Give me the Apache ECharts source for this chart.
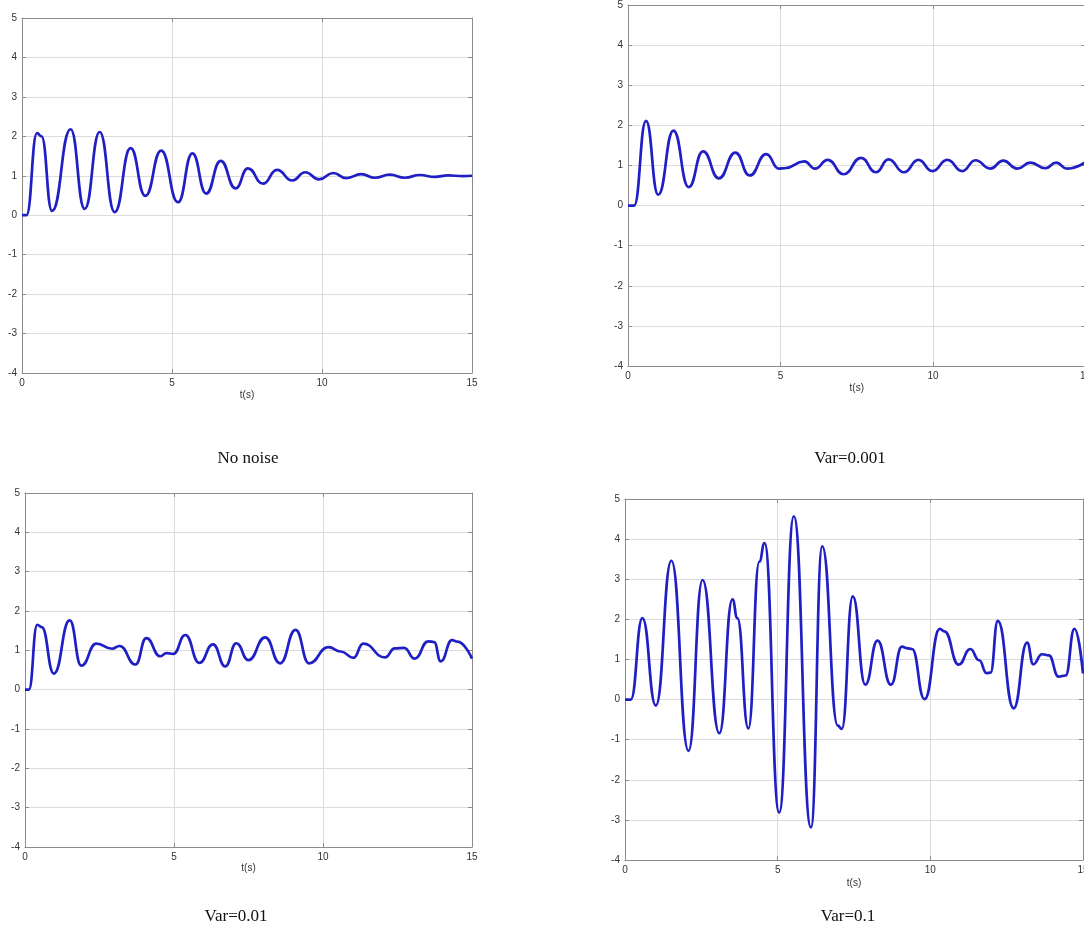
<!DOCTYPE html>
<html>
<head>
<meta charset="utf-8">
<script src="https://cdn.jsdelivr.net/npm/echarts@6/dist/echarts.min.js"></script>
<style>
  html, body { margin: 0; padding: 0; background: #fff; }
  #chart { width: 1084px; height: 934px; }
</style>
</head>
<body>
<div id="chart"></div>
<script>
// Step responses, time in seconds (local extrema and shoulders of each trace)
const tNoNoise = [0, 0.15, 0.5, 0.65, 1.0, 1.62, 2.09, 2.59, 3.09, 3.62, 4.11, 4.64, 5.2, 5.68, 6.14, 6.62, 7.12, 7.53, 8.03, 8.5, 9.01, 9.44, 9.9, 10.37, 10.81, 11.31, 11.76, 12.26, 12.76, 13.26, 13.76, 14.2, 14.7, 15];
const yNoNoise = [0, 0, 2.08, 2.0, 0.11, 2.18, 0.16, 2.11, 0.08, 1.70, 0.49, 1.64, 0.33, 1.57, 0.55, 1.38, 0.68, 1.19, 0.80, 1.15, 0.88, 1.09, 0.91, 1.07, 0.94, 1.04, 0.95, 1.03, 0.95, 1.02, 0.97, 1.01, 0.99, 1.0];

const tVar0001 = [0, 0.2, 0.59, 0.99, 1.49, 1.99, 2.46, 2.98, 3.52, 3.99, 4.53, 4.95, 5.13, 5.78, 6.13, 6.55, 7.07, 7.64, 8.13, 8.54, 9.05, 9.52, 9.98, 10.47, 10.96, 11.39, 11.88, 12.30, 12.76, 13.19, 13.68, 14.04, 14.39, 15];
const yVar0001 = [0, 0, 2.11, 0.27, 1.87, 0.46, 1.35, 0.68, 1.32, 0.75, 1.28, 0.92, 0.93, 1.10, 0.92, 1.14, 0.78, 1.19, 0.83, 1.15, 0.83, 1.14, 0.86, 1.14, 0.86, 1.13, 0.92, 1.12, 0.92, 1.07, 0.93, 1.07, 0.92, 1.08];

const tVar001 = [0, 0.13, 0.41, 0.56, 0.97, 1.5, 1.89, 2.39, 2.92, 3.17, 3.71, 4.07, 4.54, 4.75, 4.98, 5.38, 5.85, 6.31, 6.72, 7.09, 7.5, 8.06, 8.56, 9.08, 9.53, 10.18, 10.6, 11.02, 11.35, 12.08, 12.41, 12.72, 13.08, 13.53, 13.73, 13.95, 14.33, 14.51, 15];
const yVar001 = [0, 0, 1.65, 1.59, 0.41, 1.76, 0.61, 1.17, 1.04, 1.11, 0.64, 1.31, 0.85, 0.93, 0.91, 1.39, 0.68, 1.15, 0.59, 1.18, 0.75, 1.33, 0.67, 1.52, 0.67, 1.08, 0.97, 0.81, 1.17, 0.82, 1.05, 1.06, 0.79, 1.23, 1.21, 0.72, 1.26, 1.22, 0.79];

const tVar01 = [0, 0.19, 0.57, 1.01, 1.52, 2.08, 2.54, 3.09, 3.52, 3.68, 4.04, 4.4, 4.57, 5.05, 5.53, 6.09, 6.46, 6.97, 7.1, 7.46, 7.87, 8.27, 8.71, 9.07, 9.23, 9.40, 9.81, 10.31, 10.46, 10.93, 11.31, 11.6, 11.84, 11.97, 12.21, 12.73, 13.17, 13.37, 13.66, 13.88, 14.2, 14.43, 14.72, 15];
const yVar01 = [0, 0, 2.03, -0.15, 3.46, -1.28, 2.98, -0.84, 2.50, 2.03, -0.72, 3.44, 3.90, -2.82, 4.57, -3.19, 3.82, -0.65, -0.73, 2.57, 0.37, 1.47, 0.37, 1.32, 1.28, 1.26, 0.01, 1.76, 1.70, 0.87, 1.26, 0.98, 0.66, 0.67, 1.96, -0.22, 1.42, 0.88, 1.13, 1.10, 0.57, 0.60, 1.76, 0.65];

const captions = ['No noise', 'Var=0.001', 'Var=0.01', 'Var=0.1'];
const xRange = [0, 15, 5];   // min, max, step
const yRange = [-4, 5, 1];

const traces = [
  [tNoNoise, yNoNoise],
  [tVar0001, yVar0001],
  [tVar001, yVar001],
  [tVar01, yVar01]
];

// Panel placement on the page
const layout = [
  { box: [22, 18, 450, 355],   nameGap: 17, cap: [248, 459] },
  { box: [628, 5, 457.5, 361], nameGap: 17, cap: [850, 459] },
  { box: [25, 493, 447, 354],  nameGap: 16, cap: [236, 917] },
  { box: [625, 499, 458, 361], nameGap: 18, cap: [848, 917] }
];

const frameColor = '#8c8c8c';
const gridColor = '#dcdcdc';
const lineColor = '#1f1fc4';
const labelFont = { fontFamily: 'Liberation Sans, Arial, sans-serif', fontSize: 10, color: '#333' };

const option = {
  animation: false,
  backgroundColor: '#fff',
  grid: [], xAxis: [], yAxis: [], series: [], graphic: []
};

layout.forEach((p, i) => {
  const [left, top, width, height] = p.box;
  option.grid.push({ left, top, width, height, containLabel: false, outerBoundsMode: 'none' });

  const axisLine = { show: true, onZero: false, lineStyle: { color: frameColor, width: 1 } };
  const axisTick = { show: true, inside: true, length: 4, lineStyle: { color: frameColor } };

  option.xAxis.push({
    type: 'value', gridIndex: i, position: 'bottom',
    min: xRange[0], max: xRange[1], interval: xRange[2],
    axisLine, axisTick,
    axisLabel: Object.assign({ margin: 5 }, labelFont),
    splitLine: { show: true, lineStyle: { color: gridColor, width: 1 } },
    name: 't(s)', nameLocation: 'middle', nameGap: p.nameGap,
    nameTextStyle: Object.assign({}, labelFont)
  });
  option.xAxis.push({
    type: 'value', gridIndex: i, position: 'top',
    min: xRange[0], max: xRange[1], interval: xRange[2],
    axisLine, axisTick,
    axisLabel: { show: false }, splitLine: { show: false }
  });
  option.yAxis.push({
    type: 'value', gridIndex: i, position: 'left',
    min: yRange[0], max: yRange[1], interval: yRange[2],
    axisLine, axisTick,
    axisLabel: Object.assign({ margin: 5 }, labelFont),
    splitLine: { show: true, lineStyle: { color: gridColor, width: 1 } }
  });
  option.yAxis.push({
    type: 'value', gridIndex: i, position: 'right',
    min: yRange[0], max: yRange[1], interval: yRange[2],
    axisLine, axisTick,
    axisLabel: { show: false }, splitLine: { show: false }
  });

  const [ts, ys] = traces[i];
  option.series.push({
    type: 'line',
    xAxisIndex: 2 * i, yAxisIndex: 2 * i,
    data: ts.map((t, k) => [t, ys[k]]),
    showSymbol: false,
    smooth: 0.5,
    smoothMonotone: 'x',
    lineStyle: { color: lineColor, width: 2.7 },
    emphasis: { disabled: true }
  });

  option.graphic.push({
    type: 'text',
    x: p.cap[0], y: p.cap[1],
    style: {
      text: captions[i],
      fontFamily: 'Liberation Serif, Times New Roman, serif',
      fontSize: 17,
      fill: '#111',
      textAlign: 'center',
      textVerticalAlign: 'middle'
    }
  });
});

const chart = echarts.init(document.getElementById('chart'), null, { renderer: 'canvas' });
chart.setOption(option);
</script>
</body>
</html>
